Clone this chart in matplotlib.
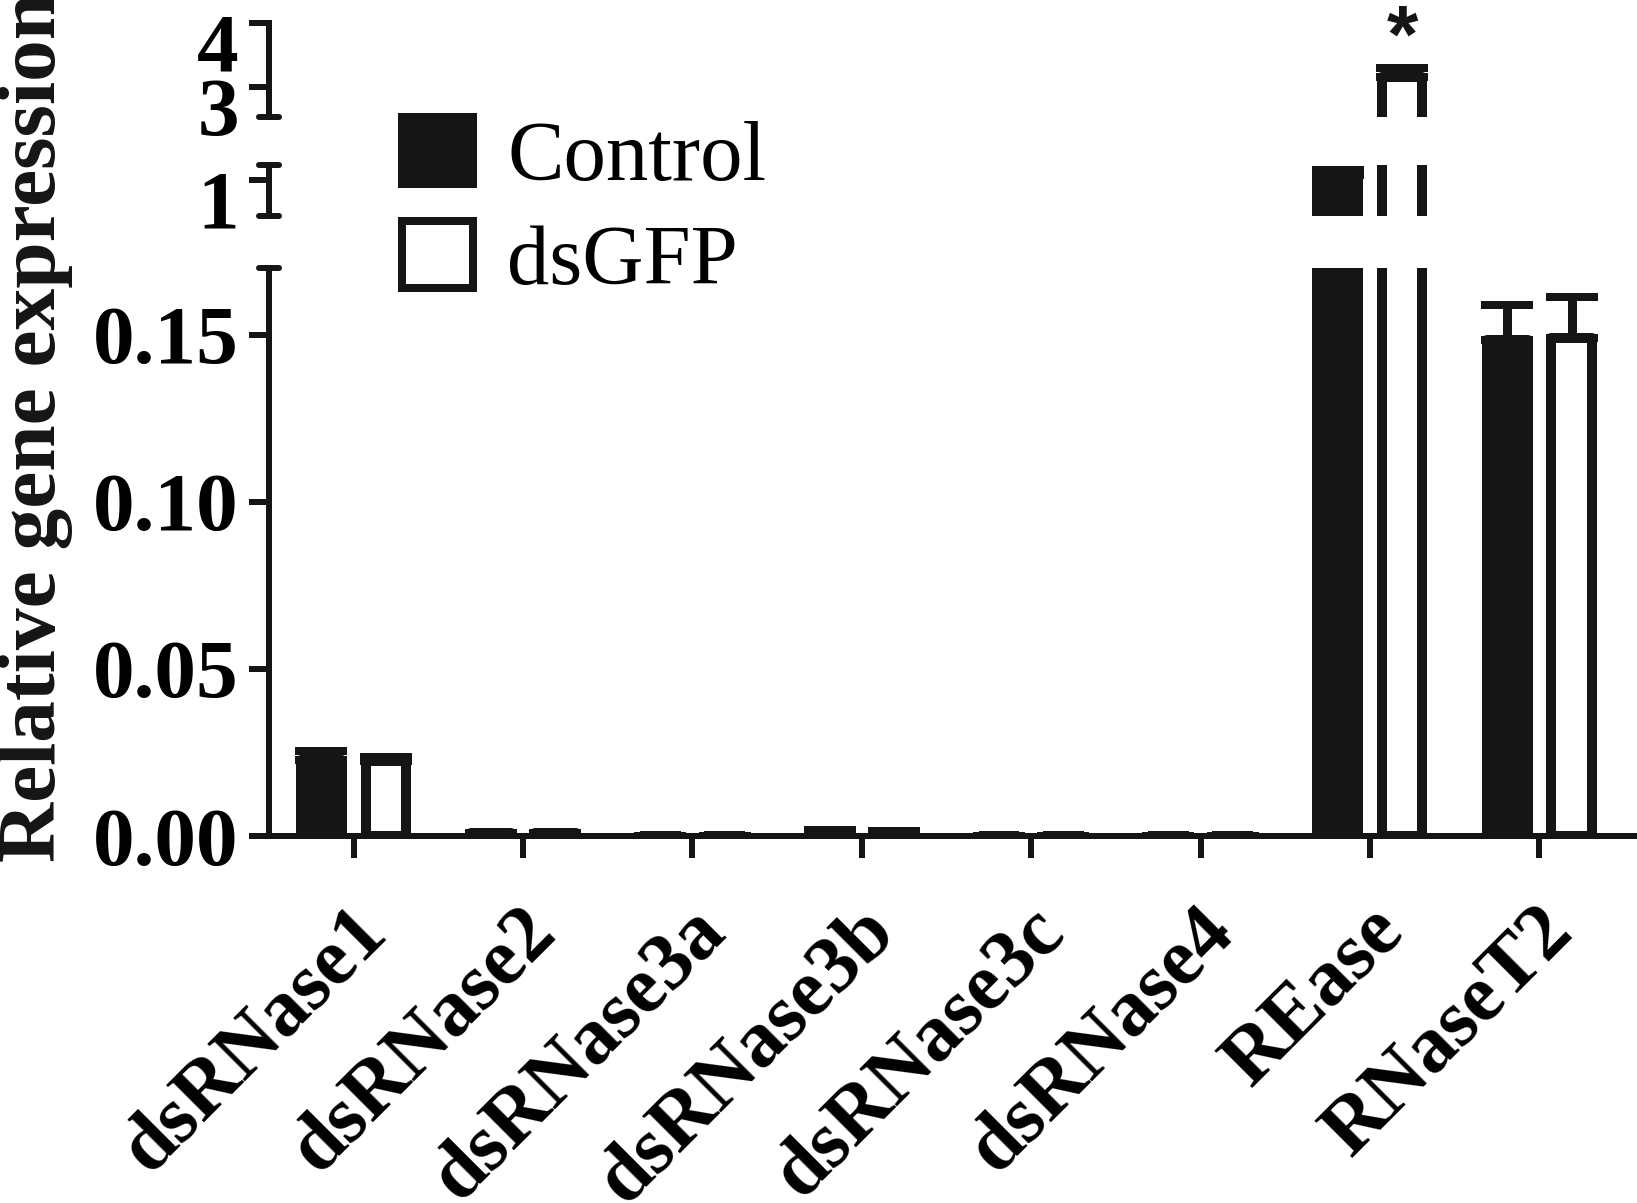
import matplotlib
matplotlib.use('Agg')
import matplotlib.pyplot as plt
from matplotlib.patches import Patch
from matplotlib.transforms import ScaledTranslation
import numpy as np

# values
genes = ['dsRNase1', 'dsRNase2', 'dsRNase3a', 'dsRNase3b', 'dsRNase3c', 'dsRNase4', 'REase', 'RNaseT2']
control_mean = [0.0228, 0.0008, 0.0001, 0.0015, 0.0, 0.0, 1.04, 0.1485]
control_sem = [0.0025, 0.0002, 0.0, 0.0003, 0.0, 0.0, 0.04, 0.0105]
dsgfp_mean = [0.0225, 0.0008, 0.0001, 0.0012, 0.0, 0.0, 3.16, 0.149]
dsgfp_sem = [0.001, 0.0002, 0.0, 0.0003, 0.0, 0.0, 0.13, 0.0124]
group_labels = ['Control', 'dsGFP']
star_gene = 'REase'

BLACK = '#151515'
DPI = 100
px = 72.0 / DPI  # points per pixel

serif_bold = {'family': 'Liberation Serif', 'weight': 'bold'}

fig = plt.figure(figsize=(16.37, 12.03), dpi=DPI)
left, width = 0.1643, 0.834
ax_bot = fig.add_axes([left, 0.3051, width, 0.4722])
ax_mid = fig.add_axes([left, 0.8204, width, 0.0424])
ax_top = fig.add_axes([left, 0.9027, width, 0.0781])
axes = [ax_bot, ax_mid, ax_top]

x = np.arange(len(genes))
bw = 0.24
off = 0.19
edge_lw = 10 * px

for ax in axes:
    ax.bar(x - off, control_mean, bw, color=BLACK, edgecolor=BLACK, linewidth=edge_lw,
           joinstyle='round', zorder=2)
    ax.bar(x + off, dsgfp_mean, bw, color='white', edgecolor=BLACK, linewidth=edge_lw,
           joinstyle='round', zorder=2)
    for xs, m, s in [(x - off, control_mean, control_sem), (x + off, dsgfp_mean, dsgfp_sem)]:
        ax.errorbar(xs, m, yerr=[np.zeros(len(s)), s], fmt='none', ecolor=BLACK,
                    elinewidth=9 * px, capsize=26 * px, capthick=8 * px, zorder=1)
    ax.set_xlim(-0.5, 7.56)
    for sp in ['top', 'right']:
        ax.spines[sp].set_visible(False)
    ax.spines['left'].set_linewidth(6 * px)
    ax.spines['left'].set_color(BLACK)
    ax.tick_params(axis='y', direction='out', length=20 * px, width=6 * px, color=BLACK,
                   pad=10 * px, labelsize=60)

# bottom segment
ax_bot.set_ylim(0, 0.17)
ax_bot.set_yticks([0, 0.05, 0.10, 0.15])
ax_bot.set_yticklabels(['0.00', '0.05', '0.10', '0.15'], fontdict=serif_bold, fontsize=60)
ax_bot.spines['bottom'].set_linewidth(6 * px)
ax_bot.spines['bottom'].set_color(BLACK)
ax_bot.set_xticks(x)
ax_bot.set_xticklabels(genes, fontdict=serif_bold, fontsize=58, rotation=45,
                       ha='right', va='top', rotation_mode='anchor')
ax_bot.tick_params(axis='x', direction='out', length=22 * px, width=6 * px, color=BLACK,
                   pad=36 * px)
for lab in ax_bot.get_xticklabels():
    lab.set_transform(lab.get_transform() + ScaledTranslation(-4 / DPI, 0, fig.dpi_scale_trans))

# middle and upper segments
ax_mid.set_ylim(0.7, 1.12)
ax_mid.set_yticks([1])
ax_mid.set_yticklabels(['1'], fontdict=serif_bold, fontsize=60)
ax_top.set_ylim(2.53, 4.0)
ax_top.set_yticks([3, 4])
ax_top.set_yticklabels(['3', '4'], fontdict=serif_bold, fontsize=60)
for ax in [ax_mid, ax_top]:
    ax.spines['bottom'].set_visible(False)
    ax.set_xticks([])
    for lab in ax.get_yticklabels():
        lab.set_transform(lab.get_transform() + ScaledTranslation(0, -19 / DPI, fig.dpi_scale_trans))

# break marks on the y spine
cap = 10 / (width * fig.bbox.width)
for ax, ys in [(ax_bot, [1]), (ax_mid, [0, 1]), (ax_top, [0])]:
    for yy in ys:
        ax.plot([-cap, cap], [yy, yy], transform=ax.transAxes, color=BLACK, lw=6 * px,
                solid_capstyle='round', clip_on=False, zorder=5)

# significance star
si = genes.index(star_gene)
ax_top.text(si + off, 3.40, '*', ha='center', va='baseline', fontsize=58,
            family='Liberation Sans', fontweight='bold', color=BLACK, clip_on=False)

fig.text(0.0215, 0.6446, 'Relative gene expression', rotation=90, ha='center', va='center',
         fontsize=60, color=BLACK, **serif_bold)

handles = [Patch(facecolor=BLACK, edgecolor=BLACK, linewidth=8 * px, joinstyle='round'),
           Patch(facecolor='white', edgecolor=BLACK, linewidth=8 * px, joinstyle='round')]
fig.legend(handles, group_labels, loc='upper left', bbox_to_anchor=(0.2456, 0.9028),
           frameon=False, prop={'family': 'Liberation Serif', 'size': 61},
           handlelength=0.84, handleheight=0.84, handletextpad=0.4, labelspacing=0.27,
           borderpad=0, borderaxespad=0)

fig.savefig('out.png', dpi=DPI)
